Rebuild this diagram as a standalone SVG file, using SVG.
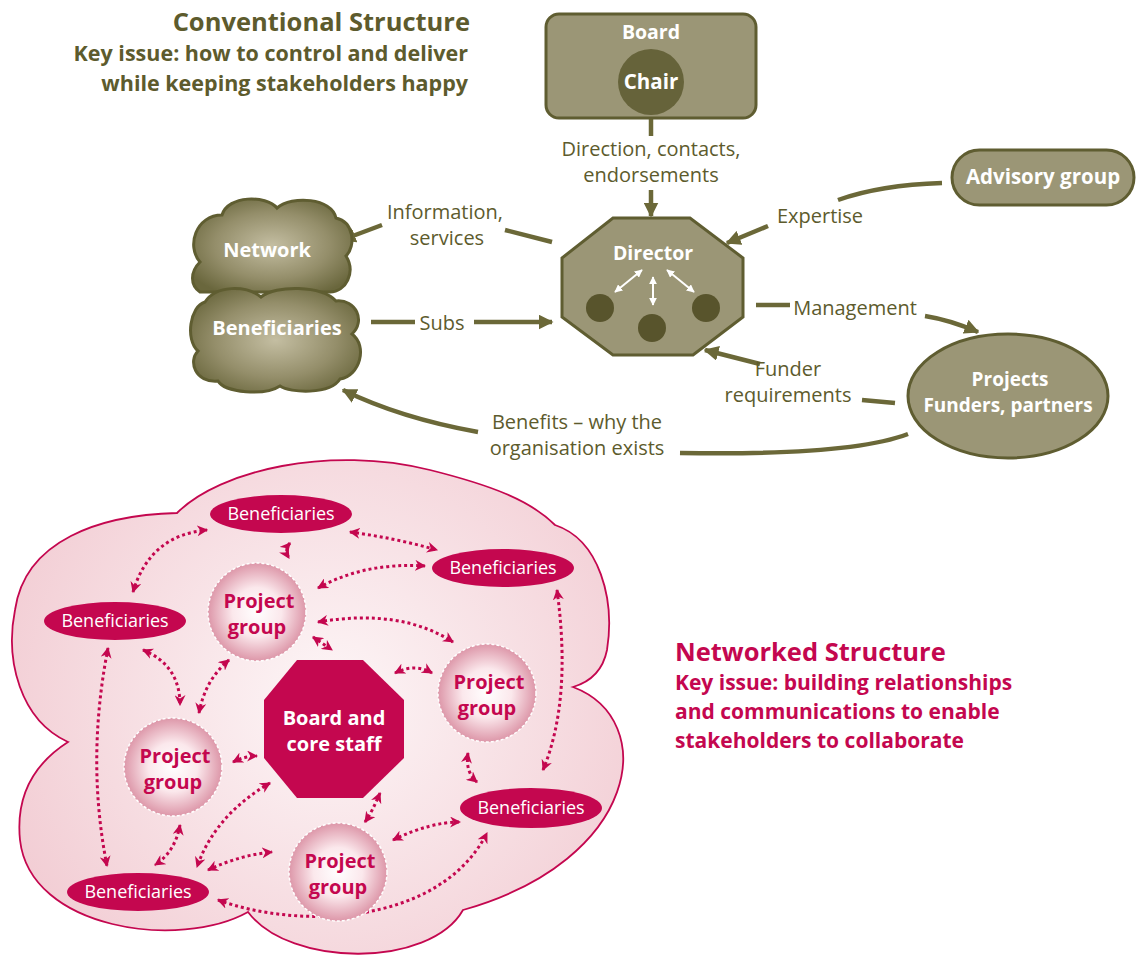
<svg xmlns="http://www.w3.org/2000/svg" width="1136" height="960" viewBox="0 0 1136 960">
<defs>
<style>
.olv{fill:#9b9676;stroke:#5f5d31;stroke-width:3}
.wb{font-family:"Open Sans",Lato,sans-serif;font-weight:bold;fill:#fff;text-anchor:middle}
.lab{font-family:"Open Sans",Lato,sans-serif;font-size:20px;fill:#5d5b2d;text-anchor:middle}
.ttlo{font-family:"Open Sans",Lato,sans-serif;font-weight:bold;fill:#5d5b2d;text-anchor:end}
.ttlc{font-family:"Open Sans",Lato,sans-serif;font-weight:bold;fill:#c4074f}
.oc{fill:none;stroke:#6b6838;stroke-width:4.5}
.oca{fill:none;stroke:#6b6838;stroke-width:4.5;marker-end:url(#oa)}
.wa{fill:none;stroke:#fff;stroke-width:2;marker-start:url(#wa);marker-end:url(#wa)}
.dc{fill:none;stroke:#c4074f;stroke-width:3;stroke-dasharray:3 3;marker-start:url(#ca);marker-end:url(#ca)}
.ben{fill:#c4074f}
.bt{font-family:"Open Sans",Lato,sans-serif;font-size:18px;fill:#fff;text-anchor:middle}
.pg{fill:url(#pgg);stroke:#fff;stroke-width:1.5;stroke-dasharray:3 2}
.pt{font-family:"Open Sans",Lato,sans-serif;font-weight:bold;font-size:20px;fill:#c4074f;text-anchor:middle}
</style>
<marker id="oa" viewBox="0 0 10 10" refX="9" refY="5" markerWidth="15" markerHeight="15" markerUnits="userSpaceOnUse" orient="auto"><path d="M0,0 L10,5 L0,10 z" fill="#6b6838"/></marker>
<marker id="wa" viewBox="0 0 10 10" refX="9" refY="5" markerWidth="8" markerHeight="8" markerUnits="userSpaceOnUse" orient="auto-start-reverse"><path d="M0,0 L10,5 L0,10 z" fill="#fff"/></marker>
<marker id="ca" viewBox="0 0 10 10" refX="9" refY="5" markerWidth="11" markerHeight="11" markerUnits="userSpaceOnUse" orient="auto-start-reverse"><path d="M0,0 L10,5 L0,10 L3,5 z" fill="#c4074f"/></marker>
<radialGradient id="og" cx="0.5" cy="0.5" r="0.6"><stop offset="0" stop-color="#c4bea2"/><stop offset="0.6" stop-color="#948e6a"/><stop offset="1" stop-color="#6a673d"/></radialGradient>
<radialGradient id="pcg" cx="330" cy="700" r="360" gradientUnits="userSpaceOnUse"><stop offset="0" stop-color="#fdf6f7"/><stop offset="1" stop-color="#f2ccd3"/></radialGradient>
<radialGradient id="pgg" cx="0.5" cy="0.5" r="0.5"><stop offset="0" stop-color="#fff"/><stop offset="0.5" stop-color="#fbe8ec"/><stop offset="1" stop-color="#dd97a9"/></radialGradient>
</defs>

<g id="title-conventional">
<text class="ttlo" x="470" y="31" font-size="25.5">Conventional Structure</text>
<text class="ttlo" x="468" y="61" font-size="21.5">Key issue: how to control and deliver</text>
<text class="ttlo" x="468" y="91" font-size="21.5">while keeping stakeholders happy</text>
</g>

<g id="connectors-conventional">
<path class="oc" d="M651,115 L651,136"/>
<path class="oca" d="M651,190 L651,216"/>
<path class="oc" d="M942,183 Q880,185 838,200"/>
<path class="oca" d="M768,226 L727,243"/>
<path class="oc" d="M756,305 L790,305"/>
<path class="oca" d="M925,316 Q950,320 978,332"/>
<path class="oc" d="M895,403 L862,400"/>
<path class="oca" d="M760,364 L705,350"/>
<path class="oc" d="M908,434 Q850,456 680,453"/>
<path class="oca" d="M478,432 Q400,418 343,390"/>
<path class="oc" d="M371,322 L415,322"/>
<path class="oca" d="M474,322 L552,322"/>
<path class="oc" d="M552,242 L505,230"/>
<path class="oca" d="M382,225 L342,240"/>
<text class="lab" x="651" y="156">Direction, contacts,</text>
<text class="lab" x="651" y="182">endorsements</text>
<text class="lab" x="820" y="223">Expertise</text>
<text class="lab" x="855" y="315">Management</text>
<text class="lab" x="788" y="376">Funder</text>
<text class="lab" x="788" y="402">requirements</text>
<text class="lab" x="577" y="429">Benefits – why the</text>
<text class="lab" x="577" y="455">organisation exists</text>
<text class="lab" x="442" y="330">Subs</text>
<text class="lab" x="445" y="219">Information,</text>
<text class="lab" x="447" y="245">services</text>
</g>

<g id="board">
<rect class="olv" x="546" y="14" width="210" height="104" rx="13"/>
<text class="wb" x="651" y="39" font-size="19.5">Board</text>
<circle cx="651" cy="82" r="33" fill="#66633a"/>
<text class="wb" x="651" y="89" font-size="20.5">Chair</text>
</g>

<g id="director">
<polygon class="olv" points="613,218 690,218 743,258 743,317 693,355 613,355 562,317 562,258"/>
<text class="wb" x="653" y="260" font-size="19.5">Director</text>
<circle cx="600" cy="308" r="14" fill="#58542c"/>
<circle cx="652" cy="328" r="14" fill="#58542c"/>
<circle cx="706" cy="308" r="14" fill="#58542c"/>
<path class="wa" d="M642,270 L615,292"/>
<path class="wa" d="M653,277 L653,305"/>
<path class="wa" d="M667,270 L694,292"/>
</g>

<g id="advisory">
<rect class="olv" x="952" y="150" width="182" height="55" rx="27.5"/>
<text class="wb" x="1043" y="184" font-size="20.5">Advisory group</text>
</g>

<g id="projects">
<ellipse class="olv" cx="1008" cy="396" rx="100" ry="62"/>
<text class="wb" x="1010" y="386" font-size="19">Projects</text>
<text class="wb" x="1008" y="412" font-size="19">Funders, partners</text>
</g>

<g id="network">
<path d="M200,262 C186,246 196,215 222,215 C228,195 266,195 277,208 C292,195 332,198 336,218 C354,222 356,246 346,256 C356,272 346,292 330,292 L200,292 C190,285 190,272 200,262 Z" fill="url(#og)" stroke="#5f5d31" stroke-width="3"/>
<text class="wb" x="267" y="257" font-size="20">Network</text>
</g>

<g id="beneficiaries-top">
<path d="M205,302 C216,285 246,285 261,297 C276,285 321,285 336,301 C356,299 366,321 352,334 C368,346 360,376 340,379 C330,395 290,393 280,386 C265,396 225,393 218,381 C195,383 188,361 198,351 C185,340 190,306 205,302 Z" fill="url(#og)" stroke="#5f5d31" stroke-width="3"/>
<text class="wb" x="277" y="335" font-size="20">Beneficiaries</text>
</g>

<g id="network-cloud">
<path d="M68,742 C20,720 5,660 15,610 C25,540 100,515 177,513 C220,470 330,445 430,470 C490,485 530,500 555,525 C600,540 615,600 607,650 C603,670 590,682 573,687 C660,720 640,860 463,910 C430,968 290,968 248,912 C180,950 30,930 20,840 C15,790 40,760 68,742 Z" fill="url(#pcg)" stroke="#c4074f" stroke-width="1.8"/>
</g>

<g id="connectors-networked">
<path class="dc" d="M133,592 Q150,535 207,530"/>
<path class="dc" d="M290,543 Q284,550 289,558"/>
<path class="dc" d="M350,532 Q395,538 437,550"/>
<path class="dc" d="M318,588 Q365,562 425,566"/>
<path class="dc" d="M318,622 Q400,608 453,642"/>
<path class="dc" d="M313,637 L332,650"/>
<path class="dc" d="M143,650 Q180,665 180,705"/>
<path class="dc" d="M199,713 Q205,680 229,660"/>
<path class="dc" d="M108,648 Q86,760 107,866"/>
<path class="dc" d="M233,762 Q245,756 257,756"/>
<path class="dc" d="M180,825 Q175,852 155,865"/>
<path class="dc" d="M270,783 Q215,815 197,867"/>
<path class="dc" d="M208,870 Q240,855 272,852"/>
<path class="dc" d="M380,793 Q372,812 365,822"/>
<path class="dc" d="M395,673 Q415,663 432,673"/>
<path class="dc" d="M468,753 Q465,772 477,782"/>
<path class="dc" d="M557,590 Q572,700 543,770"/>
<path class="dc" d="M393,840 Q430,822 460,822"/>
<path class="dc" d="M218,900 C300,930 440,925 487,833"/>
</g>

<g id="ben-1"><ellipse class="ben" cx="281" cy="514" rx="71" ry="19"/><text class="bt" x="281" y="520">Beneficiaries</text></g>
<g id="ben-2"><ellipse class="ben" cx="115" cy="621" rx="71" ry="19"/><text class="bt" x="115" y="627">Beneficiaries</text></g>
<g id="ben-3"><ellipse class="ben" cx="503" cy="568" rx="71" ry="19"/><text class="bt" x="503" y="574">Beneficiaries</text></g>
<g id="ben-4"><ellipse class="ben" cx="531" cy="808" rx="71" ry="20"/><text class="bt" x="531" y="814">Beneficiaries</text></g>
<g id="ben-5"><ellipse class="ben" cx="138" cy="892" rx="71" ry="19"/><text class="bt" x="138" y="898">Beneficiaries</text></g>

<g id="pg-1"><circle class="pg" cx="257" cy="612" r="49"/><text class="pt" x="259" y="608">Project</text><text class="pt" x="257" y="634">group</text></g>
<g id="pg-2"><circle class="pg" cx="487" cy="693" r="49"/><text class="pt" x="489" y="689">Project</text><text class="pt" x="487" y="715">group</text></g>
<g id="pg-3"><circle class="pg" cx="173" cy="767" r="49"/><text class="pt" x="175" y="763">Project</text><text class="pt" x="173" y="789">group</text></g>
<g id="pg-4"><circle class="pg" cx="338" cy="872" r="49"/><text class="pt" x="340" y="868">Project</text><text class="pt" x="338" y="894">group</text></g>

<g id="board-core">
<polygon points="297,660 363,660 404,700 404,758 363,798 297,798 264,758 264,700" fill="#c4074f"/>
<text class="wb" x="334" y="725" font-size="20">Board and</text>
<text class="wb" x="334" y="751" font-size="20">core staff</text>
</g>

<g id="title-networked">
<text class="ttlc" x="675" y="661" font-size="25.5">Networked Structure</text>
<text class="ttlc" x="675" y="690" font-size="21">Key issue: building relationships</text>
<text class="ttlc" x="675" y="719" font-size="21">and communications to enable</text>
<text class="ttlc" x="675" y="748" font-size="21">stakeholders to collaborate</text>
</g>
</svg>
